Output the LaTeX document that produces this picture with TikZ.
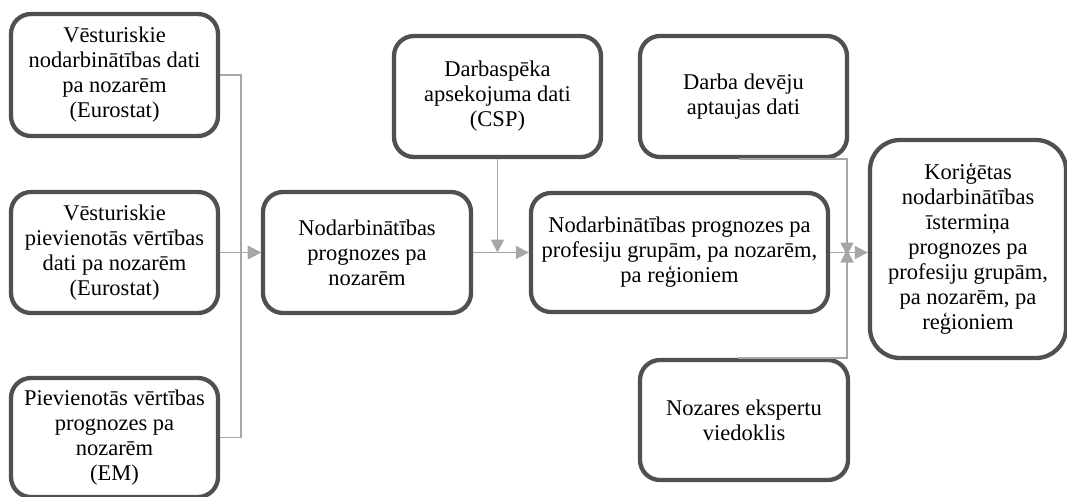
\documentclass[tikz,border=0pt]{standalone}
\usepackage{fontspec}
\setmainfont{Liberation Serif}
\usetikzlibrary{arrows.meta}
\definecolor{boxline}{RGB}{80,80,80}
\definecolor{conn}{RGB}{166,166,166}
\begin{document}
\begin{tikzpicture}[x=1pt,y=-1pt,
  box/.style={draw=boxline, line width=4.3pt, rounded corners=20pt, fill=white,
    align=center, inner sep=0pt, font=\fontsize{22.5}{25}\selectfont},
  link/.style={draw=conn, line width=1.8pt},
  arr/.style={link, -{Triangle[length=13pt,width=13pt]}, color=conn}]
\useasboundingbox (0,0) rectangle (1067,496);
\node[box, minimum width=207pt, minimum height=122pt] (h1) at (114.5,75)
  {Vēsturiskie\\nodarbinātības dati\\pa nozarēm\\(Eurostat)};
\node[box, minimum width=207pt, minimum height=121pt] (h2) at (114.5,252.5)
  {Vēsturiskie\\pievienotās vērtības\\dati pa nozarēm\\(Eurostat)};
\node[box, minimum width=207pt, minimum height=119pt] (h3) at (114.5,437.5)
  {Pievienotās vērtības\\prognozes pa\\nozarēm\\(EM)};
\node[box, minimum width=208pt, minimum height=121pt] (m1) at (367,252.5)
  {Nodarbinātības\\prognozes pa\\nozarēm};
\node[box, minimum width=207pt, minimum height=121pt] (csp) at (497.5,96.5)
  {Darbaspēka\\apsekojuma dati\\(CSP)};
\node[box, minimum width=297pt, minimum height=119pt] (prof) at (679.5,252.5)
  {Nodarbinātības prognozes pa\\profesiju grupām, pa nozarēm,\\pa reģioniem};
\node[box, minimum width=207pt, minimum height=121pt] (dd) at (743.5,96.5)
  {Darba devēju\\aptaujas dati};
\node[box, minimum width=208pt, minimum height=120pt] (ne) at (744,420)
  {Nozares ekspertu\\viedoklis};
\node[box, rounded corners=30pt, minimum width=196pt, minimum height=218pt] (kor) at (968,249)
  {Koriģētas\\nodarbinātības\\īstermiņa\\prognozes pa\\profesiju grupām,\\pa nozarēm, pa\\reģioniem};
\coordinate (lbus) at (241,0);
\coordinate (rbus) at (847,252.5);
\draw[arr] (h1.east) -- (h1.east -| lbus) |- (m1.west);
\draw[arr] (h3.east) -- (h3.east -| lbus) |- (m1.west);
\draw[arr] (h2.east) -- (m1.west);
\draw[arr] (m1.east) -- (prof.west);
\draw[arr] (csp.south) -- (csp.south |- prof.west);
\draw[arr] ([xshift=-5pt]dd.south) -- (dd.south -| rbus) -- ([yshift=-3pt]rbus);
\draw[arr] ([xshift=-6pt]ne.north) -- (ne.north -| rbus) -- ([yshift=3pt]rbus);
\draw[arr] (prof.east) -- (prof.east -| kor.west);
\end{tikzpicture}
\end{document}
